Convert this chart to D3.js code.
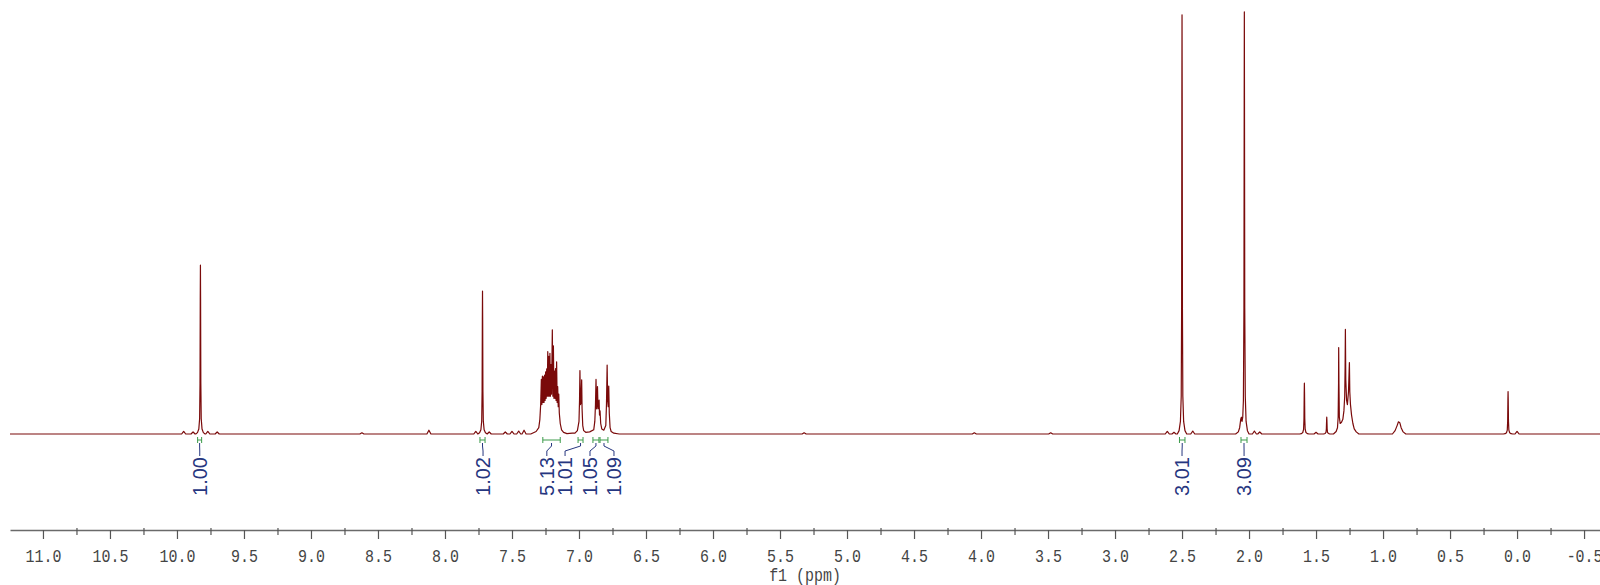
<!DOCTYPE html>
<html><head><meta charset="utf-8">
<script src="https://cdn.jsdelivr.net/npm/d3@7"></script>
<style>html,body{margin:0;padding:0;background:#fff;overflow:hidden}</style>
</head><body><svg id="c" width="1600" height="585"></svg>
<script>
// ---------------- data ----------------
const tickValues = [11.0,10.5,10.0,9.5,9.0,8.5,8.0,7.5,7.0,6.5,6.0,5.5,5.0,4.5,4.0,3.5,3.0,2.5,2.0,1.5,1.0,0.5,0.0,-0.5];
const tickLabels = ["11.0","10.5","10.0","9.5","9.0","8.5","8.0","7.5","7.0","6.5","6.0","5.5","5.0","4.5","4.0","3.5","3.0","2.5","2.0","1.5","1.0","0.5","0.0","-0.5"];
const minorTickValues = [11.25,10.75,10.25,9.75,9.25,8.75,8.25,7.75,7.25,6.75,6.25,5.75,5.25,4.75,4.25,3.75,3.25,2.75,2.25,1.75,1.25,0.75,0.25,-0.25];
const axisTitle = "f1 (ppm)";

// sharp singlets: position (ppm) and height (% of tallest)
const singletPpm    = [9.825, 7.720, 2.500, 1.587, 1.420, 0.067];
const singletHeight = [40.2,  34.0,  99.8,  12.1,  4.0,   10.1];
// line shape of a sharp singlet: [ppm offset, fraction of height]
const singletProfile = [[-0.035,0],[-0.022,0.008],[-0.012,0.03],[-0.006,0.09],[-0.003,0.3],[-0.0012,0.8],[0,1],[0.0012,0.8],[0.003,0.3],[0.006,0.09],[0.012,0.03],[0.022,0.008],[0.035,0]];

// small baseline bumps
const bumpPpm    = [9.95,9.88,9.77,9.70,8.62,8.12,7.77,7.67,7.55,7.50,7.45,7.41,5.32,4.05,3.48,2.61,2.56,2.42,1.96,1.92,1.50,0.0];
const bumpHeight = [0.6, 0.5, 0.6, 0.5, 0.3, 0.9, 0.6, 0.5, 0.5, 0.6, 0.7, 0.9, 0.3, 0.3, 0.3, 0.6, 0.4, 0.7, 0.7, 0.5, 0.4, 0.6];
const bumpProfile = [[-0.015,0],[-0.006,0.6],[0,1],[0.006,0.6],[0.015,0]];

// multiplet regions traced as [ppm, intensity]
const aromaticMultiplet = [[7.36,0],[7.32,0.6],[7.30,1.5],[7.292,3.5],[7.286,7],
  [7.281,13.0],[7.277,7.0],[7.273,13.8],[7.269,7.5],[7.265,13.6],[7.261,7.5],[7.257,14.0],[7.253,8.0],
  [7.249,14.8],[7.245,8.5],[7.241,15.5],[7.237,9.0],[7.233,19.6],[7.229,9.0],[7.225,18.5],[7.221,9.0],
  [7.217,19.2],[7.213,9.0],[7.209,16.5],[7.205,9.5],[7.199,24.8],[7.195,9.0],[7.191,21.0],[7.187,8.5],
  [7.183,15.0],[7.179,8.5],[7.175,15.6],[7.171,8.0],[7.167,17.2],[7.163,7.5],[7.159,11.3],[7.155,6.5],
  [7.151,9.5],[7.147,5.0],[7.14,2.5],[7.13,1.0],[7.115,0.4],[7.09,0.1],[7.05,0.2]];
const doubletRegion = [[7.03,0.2],[7.012,0.8],[7.0,3],[6.996,8],[6.993,15.1],[6.989,7],[6.985,7.5],[6.980,12.9],
  [6.977,6],[6.972,2],[6.965,0.8],[6.95,0.4],[6.92,0.5],[6.89,1.0],[6.882,3],[6.877,7],[6.873,13.0],[6.869,6],
  [6.866,7],[6.862,11.3],[6.858,6],[6.854,6.5],[6.850,8.1],[6.847,4.5],[6.843,5.5],[6.838,2.5],[6.83,1.2],
  [6.815,0.9],[6.80,2],[6.795,7],[6.790,16.4],[6.786,8],[6.782,6.5],[6.778,11.4],[6.774,5],[6.768,1.5],
  [6.76,0.6],[6.74,0.2],[6.70,0]];
const peak203Region = [[2.10,0],[2.08,0.5],[2.07,1.5],[2.062,3.5],[2.057,4.0],[2.052,3.0],[2.047,4.0],[2.042,8],
  [2.038,30],[2.036,80],[2.035,100.5],[2.034,80],[2.032,30],[2.028,9],[2.022,3],[2.012,0.8],[2.0,0]];
const aliphaticRegion = [[1.37,0],[1.35,0.6],[1.34,1.5],[1.335,4],[1.332,12],[1.331,20.6],[1.329,12],[1.326,4],
  [1.32,2.5],[1.31,2.8],[1.30,3.5],[1.292,5.5],[1.286,9],[1.283,16],[1.281,24.9],[1.278,13],[1.272,8],[1.266,7],
  [1.258,10],[1.253,15],[1.251,17.0],[1.248,10],[1.243,7],[1.235,4.5],[1.225,2.5],[1.215,1.2],[1.20,0.5],[1.18,0]];
const methylRegion = [[0.93,0],[0.91,0.8],[0.895,2.0],[0.885,2.9],[0.875,2.7],[0.865,1.5],[0.85,0.5],[0.83,0]];

// integrals
const integralValues   = ["1.00","1.02","5.13","1.01","1.05","1.09","3.01","3.09"];
const integralFrom     = [9.846, 7.739, 7.27, 7.007, 6.896, 6.843, 2.519, 2.060];
const integralTo       = [9.816, 7.701, 7.14, 6.970, 6.851, 6.784, 2.478, 2.015];
const integralLabelPpm = [9.830, 7.716, 7.24, 7.104, 6.918, 6.739, 2.500, 2.037];

// ---------------- drawing ----------------
const svg = d3.select("#c");
const x = d3.scaleLinear().domain([11.246, -0.619]).range([10, 1600]);
const y = d3.scaleLinear().domain([0, 100]).range([434, 14]);

let pts = [[11.246,0],[-0.619,0]];
singletPpm.forEach((p,i)=> singletProfile.forEach(([o,f])=> pts.push([p+o, singletHeight[i]*f])));
bumpPpm.forEach((p,i)=> bumpProfile.forEach(([o,f])=> pts.push([p+o, bumpHeight[i]*f])));
pts = pts.concat(aromaticMultiplet, doubletRegion, peak203Region, aliphaticRegion, methylRegion);
pts.sort((a,b)=> b[0]-a[0]);

svg.append("path")
  .attr("d", d3.line().x(d=>x(d[0])).y(d=>y(d[1]))(pts))
  .attr("fill","none").attr("stroke","#7a0a0a").attr("stroke-width",1.2)
  .attr("stroke-linejoin","round");

// integrals
const green = "#3c9b4a", navy = "#26367f";
const ig = svg.append("g");
integralValues.forEach((v,i)=>{
  const x1 = x(integralFrom[i]), x2 = x(integralTo[i]), xc = (x1+x2)/2, xl = x(integralLabelPpm[i]);
  ig.append("path").attr("d", `M${x1},440 L${x2},440 M${x1},437 L${x1},443 M${x2},437 L${x2},443`)
    .attr("stroke", green).attr("stroke-width",1).attr("fill","none");
  ig.append("path").attr("d", `M${xc},443 L${xc},446 L${xl},451 L${xl},456`)
    .attr("stroke", navy).attr("stroke-width",1).attr("fill","none");
  ig.append("text").attr("transform",`translate(${xl},457) rotate(-90)`)
    .attr("text-anchor","end").attr("dy","0.35em")
    .attr("font-family","'Liberation Sans', Arial, sans-serif").attr("font-size",20)
    .attr("fill", navy).text(v);
});

// axis
const axisG = svg.append("g").attr("transform","translate(0,530)");
axisG.call(d3.axisBottom(x).tickValues(tickValues).tickSize(9).tickSizeOuter(0)
  .tickFormat((d,i)=>tickLabels[i]));
axisG.select(".domain").attr("stroke","#6a6a6a").attr("stroke-width",1.5);
axisG.selectAll(".tick line").attr("stroke","#555").attr("stroke-width",1.2);
axisG.selectAll(".tick text")
  .attr("y",32).attr("dy",null)
  .attr("transform","scale(0.83,1)")
  .attr("font-family","'Liberation Mono', monospace").attr("font-size",18).attr("fill","#444");

const minorG = svg.append("g").attr("transform","translate(0,528)");
minorG.call(d3.axisBottom(x).tickValues(minorTickValues.filter(v=>v<11.246 && v>-0.619)).tickSize(7).tickSizeOuter(0).tickFormat(""));
minorG.select(".domain").remove();
minorG.selectAll(".tick line").attr("stroke","#555").attr("stroke-width",1.2);

svg.append("text").attr("transform",`translate(${(x.range()[0]+x.range()[1])/2},581) scale(0.83,1)`)
  .attr("text-anchor","middle").attr("font-family","'Liberation Mono', monospace")
  .attr("font-size",18).attr("fill","#444").text(axisTitle);
</script>
</body></html>
